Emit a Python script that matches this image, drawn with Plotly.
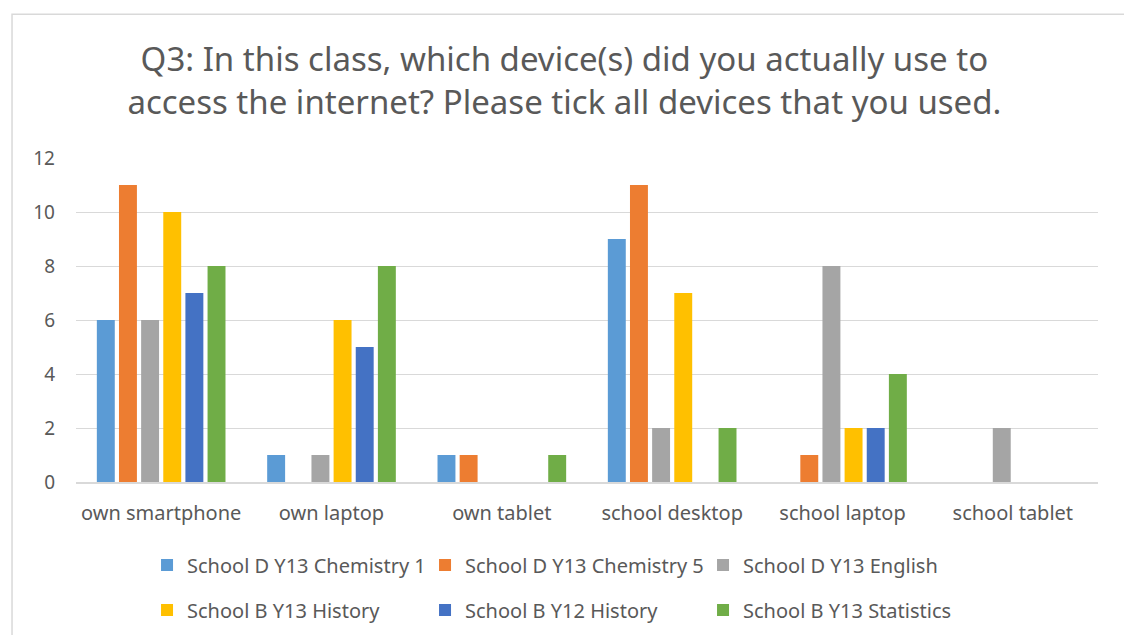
import plotly.graph_objects as go

categories = ["own smartphone", "own laptop", "own tablet", "school desktop", "school laptop", "school tablet"]
series_names = ["School D Y13 Chemistry 1", "School D Y13 Chemistry 5", "School D Y13 English",
                "School B Y13 History", "School B Y12 History", "School B Y13 Statistics"]
chem1 = [6, 1, 1, 9, 0, 0]
chem5 = [11, 0, 1, 11, 1, 0]
english = [6, 1, 0, 2, 8, 2]
history_b13 = [10, 6, 0, 7, 2, 0]
history_b12 = [7, 5, 0, 0, 2, 0]
statistics = [8, 8, 1, 2, 4, 0]
colors = ["#5B9BD5", "#ED7D31", "#A5A5A5", "#FFC000", "#4472C4", "#70AD47"]
y_ticks = [0, 2, 4, 6, 8, 10, 12]

series_values = [chem1, chem5, english, history_b13, history_b12, statistics]

FONT = "Noto Sans"
fig = go.Figure()
for i, (name, vals, col) in enumerate(zip(series_names, series_values, colors)):
    fig.add_trace(go.Bar(name=name, x=categories, y=vals, marker=dict(color=col, line=dict(width=0)),
                         legend="legend" if i < 3 else "legend2"))

leg_common = dict(orientation="h", xanchor="left", yanchor="middle",
                  entrywidth=233, entrywidthmode="pixels", tracegroupgap=0,
                  font=dict(size=20, color="#595959"), itemwidth=30, bgcolor="rgba(0,0,0,0)")

fig.update_layout(
    width=1124, height=627,
    paper_bgcolor="white", plot_bgcolor="white",
    barmode="group", bargap=0.22, bargroupgap=0.19,
    margin=dict(l=68, r=34, t=150, b=153, autoexpand=False),
    font=dict(family=FONT, color="#595959"),
    title=dict(text="Q3: In this class, which device(s) did you actually use to<br>access the internet? Please tick all devices that you used.",
               x=0.495, xanchor="center", xref="container", y=0.899, yref="container", yanchor="middle",
               font=dict(family=FONT, size=33, color="#595959")),
    xaxis=dict(showgrid=False, showline=True, linecolor="#D9D9D9", linewidth=1.5,
               tickfont=dict(size=20, color="#595959"), ticks="", ticklabelstandoff=12),
    yaxis=dict(range=[0, 12], tickvals=y_ticks, showgrid=True, gridcolor="#D9D9D9", gridwidth=1,
               zeroline=False, tickfont=dict(size=19, color="#595959"), ticks="", ticklabelstandoff=20),
    legend=dict(x=0.0695, y=-0.256, **leg_common),
    legend2=dict(x=0.0695, y=-0.395, **leg_common),
    shapes=[dict(type="rect", xref="paper", yref="paper", x0=-0.0626, x1=1.0294, y0=-0.55, y1=1.444,
                 line=dict(color="#D9D9D9", width=1.5), fillcolor="rgba(0,0,0,0)", layer="below")],
)
fig.write_html("out.html")
